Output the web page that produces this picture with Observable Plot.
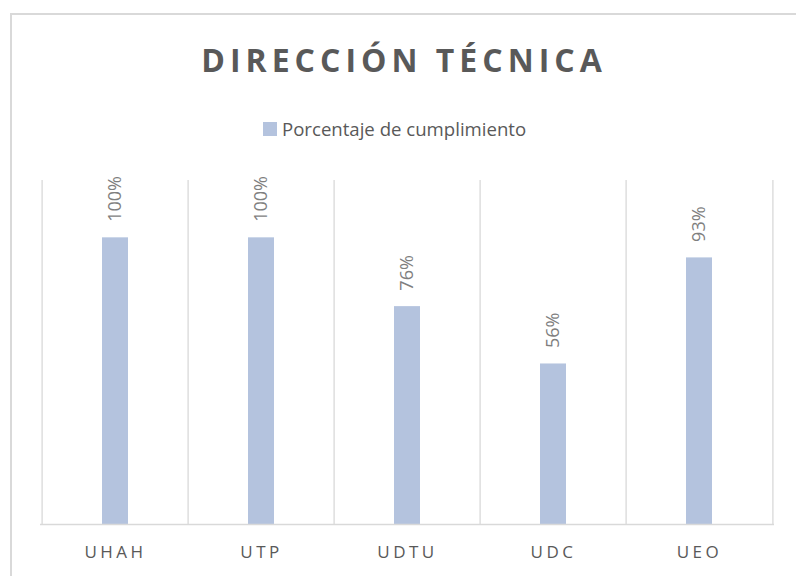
<!DOCTYPE html>
<html>
<head>
<meta charset="utf-8">
<script src="https://cdn.jsdelivr.net/npm/d3@7"></script>
<script src="https://cdn.jsdelivr.net/npm/@observablehq/plot@0.6"></script>
<style>
  html, body { margin: 0; padding: 0; background: #fff; }
  body { width: 796px; height: 576px; overflow: hidden; position: relative; font-family: "Open Sans", sans-serif; }
  #frame { position: absolute; left: 10px; top: 13px; width: 900px; height: 700px; border-left: 2px solid #d9d9d9; border-top: 2px solid #d9d9d9; }
  #title { position: absolute; left: 0; width: 808px; top: 44px; text-align: center; font-size: 32px; line-height: 1; font-weight: bold; color: #595959; letter-spacing: 5px; white-space: nowrap; }
  #legend { position: absolute; left: 263px; top: 118px; height: 22px; display: flex; align-items: center; font-size: 18.6px; line-height: 1; color: #595959; white-space: nowrap; }
  #legend .sw { width: 14px; height: 14px; background: #b4c3de; margin-right: 5px; }
  #chart { position: absolute; left: 0; top: 170px; }
  #chart svg { background: transparent !important; }
  #chart [aria-label="x-axis tick label"] text { letter-spacing: 3.5px; }
</style>
</head>
<body>
<div id="frame"></div>
<div id="title">DIRECCIÓN TÉCNICA</div>
<div id="legend"><span class="sw"></span><span>Porcentaje de cumplimiento</span></div>
<div id="chart"></div>
<script>
const categories = ["UHAH", "UTP", "UDTU", "UDC", "UEO"];
const values = [1.00, 1.00, 0.76, 0.56, 0.93];
const valueLabels = ["100%", "100%", "76%", "56%", "93%"];
const seriesName = "Porcentaje de cumplimiento";

const data = categories.map((c, i) => ({cat: c, value: values[i], label: valueLabels[i]}));

const W = 796, H = 406, mL = 40, mR = 22, mT = 10, mB = 52;
const bw = (W - mL - mR) / categories.length;

const chart = Plot.plot({
  width: W,
  height: H,
  marginLeft: mL,
  marginRight: mR,
  marginTop: mT,
  marginBottom: mB,
  style: {fontFamily: "Open Sans, sans-serif", background: "transparent"},
  x: {type: "band", domain: categories, padding: 0, label: null, tickSize: 0, tickPadding: 21},
  y: {domain: [0, 1.2], axis: null},
  marks: [
    Plot.ruleX(categories, {x: d => d, dx: -bw / 2, y1: 0, y2: 1.2, stroke: "#d9d9d9", strokeWidth: 1.3}),
    Plot.ruleX([categories[categories.length - 1]], {x: d => d, dx: bw / 2, y1: 0, y2: 1.2, stroke: "#d9d9d9", strokeWidth: 1.3}),
    Plot.barY(data, {x: "cat", y: "value", fill: "#b4c3de", insetLeft: 60, insetRight: 60}),
    Plot.ruleY([0], {stroke: "#d9d9d9", strokeWidth: 1.5}),
    Plot.text(data, {x: "cat", y: "value", text: "label", rotate: -90, textAnchor: "start", dy: -16, fontSize: 18, fill: "#7f7f7f"}),
    Plot.axisX({tickSize: 0, tickPadding: 21, fontSize: 17, color: "#595959", label: null})
  ]
});
document.getElementById("chart").appendChild(chart);
</script>
</body>
</html>
